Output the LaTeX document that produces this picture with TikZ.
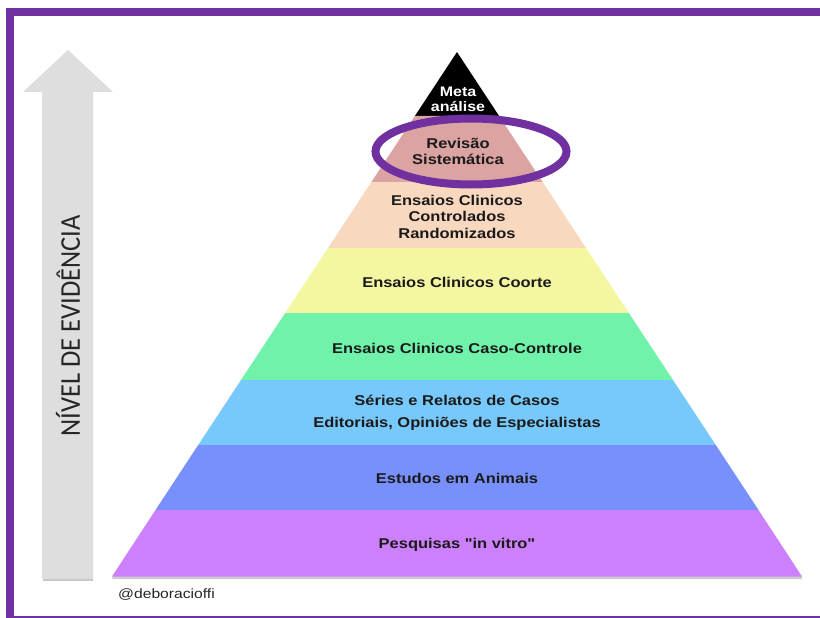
\documentclass[tikz,border=0pt]{standalone}
\usepackage{fontspec}
\setmainfont{Liberation Sans}[Ligatures=TeXOff]
\newfontfamily\calfont{Carlito}
\usetikzlibrary{shapes.geometric}
\definecolor{framepurple}{HTML}{7030A0}
\definecolor{lrev}{HTML}{DBA4A2}
\definecolor{lccr}{HTML}{F9D8C0}
\definecolor{lcoo}{HTML}{F4F7A1}
\definecolor{lcc}{HTML}{70F2AA}
\definecolor{lser}{HTML}{78C9FB}
\definecolor{lani}{HTML}{7890FC}
\definecolor{lvit}{HTML}{CD80FC}
\definecolor{arrowgray}{HTML}{DEDEDE}
\definecolor{txt}{HTML}{1A1A1A}
\newcommand{\wide}[1]{\scalebox{1.16}[1]{#1}}
\begin{document}
\begin{tikzpicture}[x=1pt,y=-1pt,
  lbl/.style={text=txt, font=\fontsize{14.2}{16.5}\selectfont\bfseries, align=center, inner sep=0pt},
  layer/.style={draw=none}]
\useasboundingbox (0,0) rectangle (820,618);
\fill[white] (0,0) rectangle (820,618);
% frame
\fill[framepurple] (6,8) rectangle (820,16);
\fill[framepurple] (6,8) rectangle (14,618);
\fill[framepurple] (14,615.5) rectangle (820,618);
% arrow shadow and arrow
\fill[black!22] (43,578) rectangle (93,581);
\fill[arrowgray] (42,579) -- (42,92) -- (23,92) -- (68,50) -- (113,92) -- (93,92) -- (93,579) -- cycle;
\node[rotate=90, text=black!85, font=\calfont\fontsize{26.5}{26.5}\selectfont, inner sep=0pt] (axis) at (68,326) {\scalebox{1}[1.08]{NÍVEL DE EVIDÊNCIA}};
% pyramid shadow
\fill[black!20] (113,576) -- (801,576) -- (802,579) -- (112,579) -- cycle;
% layers
\fill[black] (457,52) -- (499.1,116) -- (414.9,116) -- cycle;
\fill[lrev] (414.9,116) -- (499.1,116) -- (542.6,182) -- (371.4,182) -- cycle;
\fill[lccr] (371.4,182) -- (542.6,182) -- (586,248) -- (328,248) -- cycle;
\fill[lcoo] (328,248) -- (586,248) -- (628.8,313) -- (285.2,313) -- cycle;
\fill[lcc] (285.2,313) -- (628.8,313) -- (673,380) -- (241,380) -- cycle;
\fill[lser] (241,380) -- (673,380) -- (715.8,445) -- (198.2,445) -- cycle;
\fill[lani] (198.2,445) -- (715.8,445) -- (758.5,510) -- (155.5,510) -- cycle;
\fill[lvit] (155.5,510) -- (758.5,510) -- (802,576.5) -- (112,576.5) -- cycle;
% labels
\node[lbl, text=white, font=\fontsize{13.8}{15}\selectfont\bfseries] (meta) at (458,99.5) {\wide{Meta}\\\wide{análise}};
\node[lbl] (rev) at (458,151.5) {\wide{Revisão}\\\wide{Sistemática}};
\node[lbl] (ccr) at (457,216.5) {\wide{Ensaios Clinicos}\\\wide{Controlados}\\\wide{Randomizados}};
\node[lbl] (coo) at (457,282.5) {\wide{Ensaios Clinicos Coorte}};
\node[lbl] (cc) at (457,348) {\wide{Ensaios Clinicos Caso-Controle}};
\node[lbl] (ser) at (457,413) {\wide{Séries e Relatos de Casos}\\[5pt]\wide{Editoriais, Opiniões de Especialistas}};
\node[lbl] (ani) at (457,478) {\wide{Estudos em Animais}};
\node[lbl] (vit) at (457,545) {\wide{Pesquisas "in vitro"}};
% highlight ellipse
\node[ellipse, draw=framepurple, line width=8pt, minimum width=191pt, minimum height=66pt, inner sep=0pt] (highlight) at (471,151.5) {};
% credit
\node[anchor=west, text=black!85, font=\fontsize{13.5}{13.5}\selectfont, inner sep=0pt] (credit) at (118,595) {\wide{@deboracioffi}};
\end{tikzpicture}
\end{document}
